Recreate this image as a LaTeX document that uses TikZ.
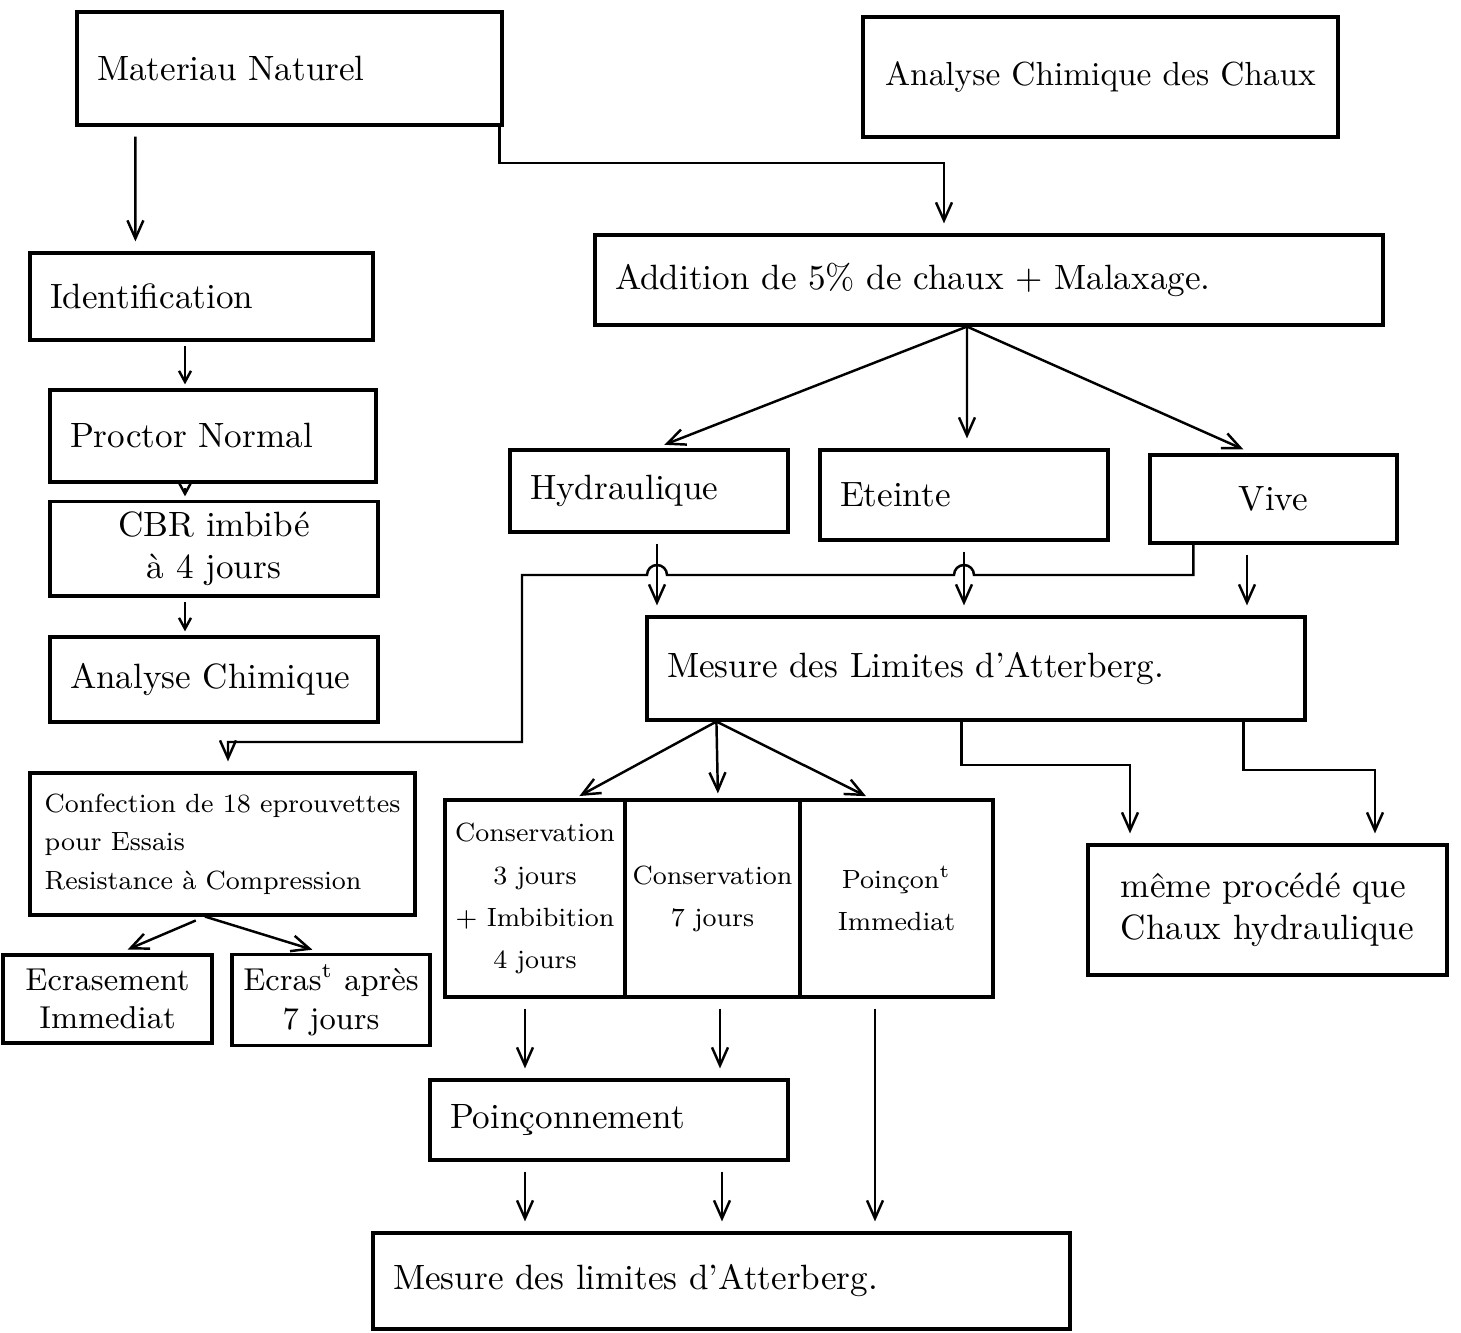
\documentclass[tikz,border=0pt]{standalone}
\usetikzlibrary{arrows.meta}

\begin{document}
\begin{tikzpicture}[x=0.1mm, y=-0.1mm, >={Straight Barb[length=1.8mm,width=1.6mm]},
  box/.style={draw, line width=0.9pt, inner xsep=2mm, inner ysep=1mm, align=left},
  col/.style={box, align=center, inner xsep=0.5mm, font=\fontsize{7.5}{12}\selectfont},
  arr/.style={->, line width=0.7pt, shorten <=1mm, shorten >=1mm},
  tiny/.style={-{Straight Barb[length=1.1mm,width=1.2mm]}, line width=0.7pt, shorten <=0.4mm, shorten >=0.4mm},
  link/.style={->, line width=0.7pt, shorten >=1mm}]
  \useasboundingbox (0,0) rectangle (1461,1333);
  % natural soil, left column
  \node[box, minimum width=42.5mm, minimum height=11.3mm, text width=38.5mm] (mat) at (289.5,68.5) {Materiau Naturel};
  \node[box, minimum width=34.3mm, minimum height=8.7mm, text width=30.3mm] (ident) at (201.5,296.5) {Identification};
  \node[box, minimum width=32.6mm, minimum height=9.2mm, text width=28.6mm] (proc) at (213,436) {Proctor Normal};
  \node[box, align=center, minimum width=32.8mm, minimum height=8.2mm] (cbr) at (214,549) {CBR imbibé\\à 4 jours};
  \node[box, minimum width=32.8mm, minimum height=8.5mm, text width=28.8mm] (ach) at (214,679.5) {Analyse Chimique};
  \node[box, inner xsep=1mm, font=\fontsize{7.5}{11}\selectfont, minimum width=38.5mm, minimum height=14.2mm] (conf) at (222.5,844) {Confection de 18 eprouvettes\\pour Essais\\Resistance à Compression};
  \node[box, align=center, inner xsep=0.5mm, font=\small, minimum width=20.9mm, minimum height=8.8mm] (ecr1) at (107.5,999) {Ecrasement\\Immediat};
  \node[box, align=center, inner xsep=0.5mm, font=\small, minimum width=19.8mm, minimum height=9mm] (ecr2) at (331,1000) {Ecras\textsuperscript{t} après\\7 jours};
  % lime, right part
  \node[box, inner xsep=1mm, font=\fontsize{9.5}{11}\selectfont, minimum width=47.5mm, minimum height=12mm] (anc) at (1100.5,77) {Analyse Chimique des Chaux};
  \node[box, minimum width=78.8mm, minimum height=9mm, text width=74.8mm] (add) at (989,280) {Addition de 5\% de chaux + Malaxage.};
  \node[box, minimum width=27.8mm, minimum height=8.2mm, text width=23.8mm] (hyd) at (649,491) {Hydraulique};
  \node[box, minimum width=28.8mm, minimum height=9mm, text width=24.8mm] (ete) at (964,495) {Eteinte};
  \node[box, align=center, minimum width=24.7mm, minimum height=8.8mm] (viv) at (1273.5,499) {Vive};
  \node[box, minimum width=65.8mm, minimum height=10.3mm, text width=61.8mm] (mes) at (976,668.5) {Mesure des Limites d'Atterberg.};
  \node[col, minimum width=18mm, minimum height=19.7mm] (cons1) at (535,898.5) {Conservation\\3 jours\\+ Imbibition\\4 jours};
  \node[col, minimum width=17.5mm, minimum height=19.7mm] (cons2) at (712.5,898.5) {Conservation\\7 jours};
  \node[col, minimum width=19.3mm, minimum height=19.7mm] (poin) at (896.5,898.5) {Poinçon\textsuperscript{t}\\Immediat};
  \node[box, minimum width=35.9mm, minimum height=13mm] (meme) at (1267.5,910) {même procédé que\\Chaux hydraulique};
  \node[box, minimum width=35.8mm, minimum height=8mm, text width=31.8mm] (poinc) at (609,1120) {Poinçonnement};
  \node[box, minimum width=69.7mm, minimum height=9.6mm, text width=65.7mm] (mes2) at (721.5,1281) {Mesure des limites d'Atterberg.};
  % bends
  \coordinate (k1) at (944,163);
  \coordinate (r1) at (522,575);
  \coordinate (r2) at (522,742);
  \coordinate (k2) at (1130,765);
  \coordinate (k3) at (1375,770);
  % down the left column
  \draw[arr] ([xshift=6mm]mat.south west) -- ([xshift=10.7mm]ident.north west);
  \foreach \s/\t/\dx in {ident/proc/-1.65mm, proc/cbr/-2.8mm, cbr/ach/-2.9mm}
    \draw[tiny] ([xshift=\dx]\s.south) -- ([xshift=\dx]\s.south |- \t.north);
  \draw[link] ([xshift=-0.4mm]mat.south east) |- (k1) -- (k1 |- add.north);
  % three kinds of lime
  \coordinate (a0) at ([xshift=-2.2mm]add.south);
  \foreach \t/\dx in {hyd/0.6mm, ete/0.3mm, viv/-2.1mm}
    \draw[arr, shorten <=0mm] (a0) -- ([xshift=\dx]\t.north);
  \foreach \s/\dx in {hyd/0.8mm, ete/0mm, viv/-2.65mm}
    \draw[arr] ([xshift=\dx]\s.south) -- ([xshift=\dx]\s.south |- mes.north);
  % from Vive round to the specimens
  \draw[link] ([xshift=4.5mm]viv.south west) |- ([xshift=1mm]ete.south |- r1)
    arc[start angle=0, end angle=180, radius=1mm] -- ([xshift=1.8mm]hyd.south |- r1)
    arc[start angle=0, end angle=180, radius=1mm] -- (r1) -- (r2) -| ([xshift=0.55mm]conf.north);
  % tests after Atterberg
  \coordinate (m0) at ([xshift=7.1mm]mes.south west);
  \foreach \t/\dx in {cons1/4mm, cons2/0.55mm, poin/-2.6mm}
    \draw[arr, shorten <=0mm, shorten >=0.5mm] (m0) -- ([xshift=\dx]\t.north);
  \draw[link] ([xshift=31.6mm]mes.south west) |- (k2) -- (k2 |- meme.north);
  \draw[link] ([xshift=59.8mm]mes.south west) |- (k3) -- (k3 |- meme.north);
  % crushing
  \coordinate (c0) at ([xshift=-1.75mm]conf.south);
  \draw[arr] (c0) -- ([xshift=1.1mm]ecr1.north);
  \draw[arr, shorten <=0mm] (c0) -- ([xshift=-0.9mm]ecr2.north);
  % punching
  \foreach \s/\dx in {cons1/-1mm, cons2/0.75mm}
    \draw[arr] ([xshift=\dx]\s.south) -- ([xshift=\dx]\s.south |- poinc.north);
  \foreach \dx in {-8.4mm, 11.3mm}
    \draw[arr] ([xshift=\dx]poinc.south) -- ([xshift=\dx]poinc.south |- mes2.north);
  \draw[arr] ([xshift=-2.15mm]poin.south) -- ([xshift=-2.15mm]poin.south |- mes2.north);
\end{tikzpicture}
\end{document}
